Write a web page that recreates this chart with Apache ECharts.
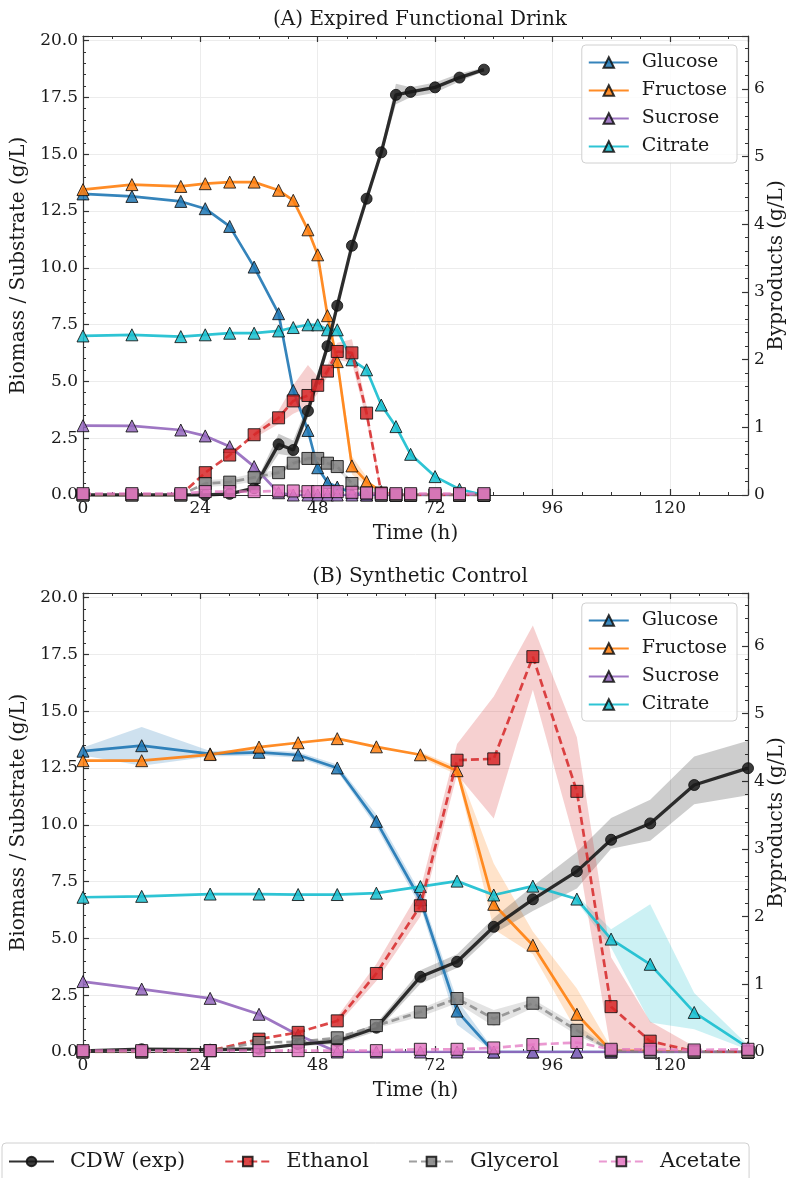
<!DOCTYPE html>
<html>
<head>
<meta charset="utf-8">
<title>Fermentation profiles</title>
<script src="https://cdn.jsdelivr.net/npm/echarts@6/dist/echarts.min.js"></script>
<style>
  html, body { margin: 0; padding: 0; background: #fff; }
  #chart { width: 790px; height: 1178px; }
</style>
</head>
<body>
<div id="chart"></div>
<script>
// ---- data ----
// panel A: expired functional drink
const timeA = [0, 10, 20, 25, 30, 35, 40, 43, 46, 48, 50, 52, 55, 58, 61, 64, 67, 72, 77, 82];
const glucoseA = [13.25, 13.14, 12.92, 12.6, 11.82, 10.03, 7.98, 4.6, 2.84, 1.2, 0.55, 0.35, 0.1, 0, 0, 0, 0, 0, 0, 0];
const fructoseA = [13.44, 13.66, 13.58, 13.7, 13.77, 13.77, 13.41, 12.97, 11.67, 10.57, 7.89, 5.87, 1.28, 0.59, 0.15, 0, 0, 0, 0, 0];
const sucroseA = [3.05, 3.04, 2.86, 2.6, 2.13, 1.25, 0.1, 0, 0, 0, 0, 0, 0, 0, 0, 0, 0, 0, 0, 0];
const citrateA = [7.0, 7.05, 6.97, 7.05, 7.12, 7.12, 7.22, 7.37, 7.49, 7.49, 7.27, 7.27, 5.95, 5.51, 3.96, 3.01, 1.79, 0.81, 0.25, 0];
const cdwA = [0, 0, 0, 0, 0.05, 0.3, 2.23, 1.98, 3.7, null, 6.55, 8.33, 10.97, 13.04, 15.08, 17.61, 17.74, 17.94, 18.37, 18.72];
const ethanolA = [0, 0, 0, 0.33, 0.59, 0.89, 1.14, 1.39, 1.47, 1.62, 1.83, 2.12, 2.1, 1.21, 0.03, 0, 0, 0, 0, 0];
const glycerolA = [0, 0, 0, 0.17, 0.19, 0.26, 0.33, 0.47, 0.54, 0.54, 0.47, 0.42, 0.17, 0.03, 0, 0, 0, 0, 0, 0];
const acetateA = [0.02, 0.02, 0.02, 0.05, 0.05, 0.05, 0.06, 0.06, 0.05, 0.05, 0.05, 0.05, 0.04, 0.03, 0.02, 0.02, 0.02, 0.02, 0.02, 0.02];
// shaded ranges (low / high), null where no band is drawn
const cdwA_lo = [null, null, null, null, null, 0.2, 1.8, 1.7, 3.4, null, 6.3, 8.1, 10.8, 12.9, 14.9, 17.2, 17.5, 17.7, 18.2, 18.65];
const cdwA_hi = [null, null, null, null, null, 0.4, 2.7, 2.4, 4.0, null, 6.8, 8.5, 11.1, 13.2, 15.25, 18.1, 17.95, 18.15, 18.55, 18.8];
const ethanolA_lo = [null, null, null, null, null, 0.84, 1.05, 1.2, 1.3, 1.5, 1.75, 2.0, 1.95, 1.1, 0, null, null, null, null, null];
const ethanolA_hi = [null, null, null, null, null, 0.93, 1.25, 1.62, 1.92, 1.75, 1.92, 2.25, 2.3, 1.32, 0.06, null, null, null, null, null];
const glycerolA_lo = [null, null, null, 0.12, 0.14, 0.2, 0.3, 0.43, 0.5, 0.5, 0.43, 0.38, 0.14, null, null, null, null, null, null, null];
const glycerolA_hi = [null, null, null, 0.22, 0.24, 0.32, 0.37, 0.52, 0.58, 0.58, 0.52, 0.46, 0.2, null, null, null, null, null, null, null];
const fructoseA_lo = [null, null, null, null, null, null, null, null, null, null, null, 5.6, 0.9, 0.4, null, null, null, null, null, null];
const fructoseA_hi = [null, null, null, null, null, null, null, null, null, null, null, 6.2, 1.7, 0.8, null, null, null, null, null, null];

// panel B: synthetic control
const timeB = [0, 12, 26, 36, 44, 52, 60, 69, 76.5, 84, 92, 101, 108, 116, 125, 136];
const glucoseB = [13.24, 13.48, 13.12, 13.19, 13.07, 12.5, 10.15, 6.7, 1.8, 0, 0, 0, 0, 0, 0, 0];
const fructoseB = [12.82, 12.82, 13.09, 13.42, 13.61, 13.79, 13.43, 13.08, 12.38, 6.5, 4.7, 1.66, 0.05, 0.05, 0, 0];
const sucroseB = [3.1, 2.77, 2.36, 1.66, 0.75, 0, 0, 0, 0, 0, 0, 0, 0, 0, 0, 0];
const citrateB = [6.81, 6.85, 6.95, 6.95, 6.93, 6.93, 6.99, 7.28, 7.52, 6.91, 7.3, 6.73, 4.97, 3.86, 1.74, 0.19];
const cdwB = [0.05, 0.12, 0.1, 0.14, 0.34, 0.48, 1.07, 3.31, 3.97, 5.51, 6.72, 7.95, 9.34, 10.06, 11.75, 12.49];
const ethanolB = [0, 0, 0.02, 0.19, 0.29, 0.46, 1.16, 2.16, 4.31, 4.33, 5.84, 3.85, 0.67, 0.16, 0.01, 0];
const glycerolB = [0, 0, 0.02, 0.14, 0.15, 0.21, 0.39, 0.59, 0.79, 0.49, 0.72, 0.32, 0.02, 0, 0, 0];
const acetateB = [0.02, 0.02, 0.02, 0.02, 0.02, 0.02, 0.02, 0.04, 0.04, 0.06, 0.11, 0.14, 0.04, 0.04, 0.03, 0.04];
const glucoseB_lo = [13.05, 12.6, 13.0, 13.05, 12.95, 12.35, 9.9, 6.4, 1.2, 0, null, null, null, null, null, null];
const glucoseB_hi = [13.4, 14.3, 13.25, 13.3, 13.2, 12.65, 10.45, 7.0, 2.3, 0.1, null, null, null, null, null, null];
const fructoseB_lo = [null, null, null, null, null, null, null, 12.95, 12.2, 5.4, 4.3, 0.9, 0, null, null, null];
const fructoseB_hi = [null, null, null, null, null, null, null, 13.2, 12.55, 8.3, 5.3, 2.8, 0.2, null, null, null];
const citrateB_lo = [null, null, null, null, null, null, null, null, null, null, null, 6.6, 4.6, 1.3, 1.0, 0.1];
const citrateB_hi = [null, null, null, null, null, null, null, null, null, null, null, 6.9, 5.4, 6.5, 2.6, 0.3];
const cdwB_lo = [null, null, null, null, 0.25, 0.35, 0.9, 3.0, 3.7, 5.2, 6.2, 7.2, 8.95, 9.3, 10.9, 11.3];
const cdwB_hi = [null, null, null, null, 0.45, 0.6, 1.25, 3.6, 4.3, 5.9, 7.3, 8.8, 10.3, 11.1, 13.0, 13.7];
const ethanolB_lo = [null, null, null, null, null, 0.4, 1.05, 2.0, 4.1, 3.45, 5.35, 3.0, 0, 0, 0, null];
const ethanolB_hi = [null, null, null, null, null, 0.52, 1.3, 2.4, 4.55, 5.25, 6.3, 4.65, 1.4, 0.45, 0.08, null];
const glycerolB_lo = [null, null, null, null, null, null, 0.35, 0.52, 0.72, 0.38, 0.65, 0.25, 0, null, null, null];
const glycerolB_hi = [null, null, null, null, null, null, 0.43, 0.64, 0.86, 0.62, 0.78, 0.4, 0.05, null, null, null];

const substrateNames = ['Glucose', 'Fructose', 'Sucrose', 'Citrate'];
const productNames = ['CDW (exp)', 'Ethanol', 'Glycerol', 'Acetate'];
const titles = ['(A) Expired Functional Drink', '(B) Synthetic Control'];

// ---- styling ----
const FONT = 'DejaVu Serif';
const C = {
  glucose: '#1f77b4', fructose: '#ff7f0e', sucrose: '#9467bd', citrate: '#17becf',
  cdw: '#1a1a1a', ethanol: '#d62728', glycerol: '#7f7f7f', acetate: '#e377c2'
};
const X_MAX = 136, LEFT_MAX = 20.2, RIGHT_MAX = 6.78;
const gridTops = [36, 593];
const GRID_H = 459;

let chart = echarts.init(document.getElementById('chart'));

function pairs(times, vals) {
  return times.map(function (t, i) { return [t, vals[i]]; });
}

function line(name, xi, yi, times, vals, color, symbol, opts) {
  opts = opts || {};
  return {
    name: name,
    type: 'line',
    xAxisIndex: xi,
    yAxisIndex: yi,
    data: pairs(times, vals),
    connectNulls: true,
    symbol: symbol,
    symbolSize: opts.size || 12,
    z: opts.z || 3,
    lineStyle: {
      color: color,
      width: opts.width || 2.7,
      type: opts.dashed ? [8, 4] : 'solid',
      opacity: opts.lineOpacity || 0.9
    },
    itemStyle: {
      color: color,
      opacity: 0.85,
      borderColor: '#111',
      borderWidth: 1
    },
    emphasis: { disabled: true }
  };
}

function band(xi, yi, times, lo, hi, color) {
  return {
    type: 'custom',
    xAxisIndex: xi,
    yAxisIndex: yi,
    silent: true,
    z: 1,
    data: [[times[0], 0]],
    renderItem: function (params, api) {
      let top = [], bottom = [];
      for (let i = 0; i < times.length; i++) {
        if (lo[i] == null || hi[i] == null) continue;
        top.push(api.coord([times[i], hi[i]]));
        bottom.unshift(api.coord([times[i], lo[i]]));
      }
      return {
        type: 'polygon',
        shape: { points: top.concat(bottom) },
        style: { fill: color, opacity: 0.22 }
      };
    }
  };
}

function panelSeries(p, t, d) {
  const xi = p * 2, yl = p * 2, yr = p * 2 + 1;
  let s = [];
  d.bands.forEach(function (b) { s.push(band(xi, b[0] ? yr : yl, t, b[1], b[2], b[3])); });
  s.push(line('Glucose', xi, yl, t, d.glucose, C.glucose, 'triangle'));
  s.push(line('Fructose', xi, yl, t, d.fructose, C.fructose, 'triangle'));
  s.push(line('Sucrose', xi, yl, t, d.sucrose, C.sucrose, 'triangle'));
  s.push(line('Citrate', xi, yl, t, d.citrate, C.citrate, 'triangle'));
  s.push(line('CDW (exp)', xi, yl, t, d.cdw, C.cdw, 'circle', { width: 3.3, size: 11, z: 4 }));
  s.push(line('Ethanol', xi, yr, t, d.ethanol, C.ethanol, 'rect', { dashed: true, lineOpacity: 0.85, z: 5 }));
  s.push(line('Glycerol', xi, yr, t, d.glycerol, C.glycerol, 'rect', { dashed: true, lineOpacity: 0.75, z: 5 }));
  s.push(line('Acetate', xi, yr, t, d.acetate, C.acetate, 'rect', { dashed: true, lineOpacity: 0.75, z: 5 }));
  return s;
}

const axisLineStyle = { color: '#333', width: 1.2 };
const labelStyle = { fontFamily: FONT, fontSize: 17, color: '#1a1a1a' };
const nameStyle = { fontFamily: FONT, fontSize: 20, color: '#1a1a1a' };

function xAxes(g) {
  return [{
    type: 'value', gridIndex: g, min: 0, max: X_MAX, interval: 24,
    name: 'Time (h)', nameLocation: 'middle', nameGap: 29,
    nameTextStyle: nameStyle,
    axisLine: { onZero: false, lineStyle: axisLineStyle },
    axisTick: { inside: true, length: 6, lineStyle: axisLineStyle },
    minorTick: { show: true, splitNumber: 4, length: 3, lineStyle: { color: '#333' } },
    axisLabel: Object.assign({ margin: 5, showMaxLabel: false }, labelStyle),
    splitLine: { show: true, lineStyle: { color: '#ececec', width: 1 } }
  }, {
    type: 'value', gridIndex: g, position: 'top', min: 0, max: X_MAX, interval: 24,
    axisLine: { onZero: false, lineStyle: axisLineStyle },
    axisTick: { inside: true, length: 6, lineStyle: axisLineStyle },
    minorTick: { show: true, splitNumber: 4, length: 3, lineStyle: { color: '#333' } },
    axisLabel: { show: false },
    splitLine: { show: false }
  }];
}

function yAxes(g) {
  return [{
    type: 'value', gridIndex: g, position: 'left', min: 0, max: LEFT_MAX, interval: 2.5,
    name: 'Biomass / Substrate (g/L)', nameLocation: 'middle', nameGap: 50, nameRotate: 90,
    nameTextStyle: nameStyle,
    axisLine: { show: true, onZero: false, lineStyle: axisLineStyle },
    axisTick: { show: true, inside: true, length: 6, lineStyle: axisLineStyle },
    minorTick: { show: true, splitNumber: 5, length: 3, lineStyle: { color: '#333' } },
    axisLabel: Object.assign({ margin: 5, showMaxLabel: false, formatter: function (v) { return v.toFixed(1); } }, labelStyle),
    splitLine: { show: true, lineStyle: { color: '#ececec', width: 1 } }
  }, {
    type: 'value', gridIndex: g, position: 'right', min: 0, max: RIGHT_MAX, interval: 1,
    name: 'Byproducts (g/L)', nameLocation: 'middle', nameGap: 19, nameRotate: 90,
    nameMoveOverlap: false,
    nameTextStyle: nameStyle,
    axisLine: { show: true, onZero: false, lineStyle: axisLineStyle },
    axisTick: { show: true, inside: true, length: 6, lineStyle: axisLineStyle },
    minorTick: { show: true, splitNumber: 5, length: 3, lineStyle: { color: '#333' } },
    axisLabel: Object.assign({ margin: 6, showMaxLabel: false }, labelStyle),
    splitLine: { show: false }
  }];
}

function substrateLegend(top) {
  return {
    data: substrateNames,
    orient: 'vertical',
    right: 53, top: top,
    itemWidth: 40, itemHeight: 13, itemGap: 9,
    padding: [8, 10, 7, 6],
    backgroundColor: 'rgba(255,255,255,0.85)',
    borderColor: '#d0d0d0', borderWidth: 1, borderRadius: 4,
    textStyle: { fontFamily: FONT, fontSize: 19, color: '#1a1a1a', padding: [0, 0, 0, 8] },
    selectedMode: false
  };
}

let seriesA = panelSeries(0, timeA, {
  glucose: glucoseA, fructose: fructoseA, sucrose: sucroseA, citrate: citrateA,
  cdw: cdwA, ethanol: ethanolA, glycerol: glycerolA, acetate: acetateA,
  bands: [
    [false, cdwA_lo, cdwA_hi, C.cdw],
    [false, fructoseA_lo, fructoseA_hi, C.fructose],
    [true, ethanolA_lo, ethanolA_hi, C.ethanol],
    [true, glycerolA_lo, glycerolA_hi, C.glycerol]
  ]
});
let seriesB = panelSeries(1, timeB, {
  glucose: glucoseB, fructose: fructoseB, sucrose: sucroseB, citrate: citrateB,
  cdw: cdwB, ethanol: ethanolB, glycerol: glycerolB, acetate: acetateB,
  bands: [
    [false, glucoseB_lo, glucoseB_hi, C.glucose],
    [false, fructoseB_lo, fructoseB_hi, C.fructose],
    [false, citrateB_lo, citrateB_hi, C.citrate],
    [false, cdwB_lo, cdwB_hi, C.cdw],
    [true, ethanolB_lo, ethanolB_hi, C.ethanol],
    [true, glycerolB_lo, glycerolB_hi, C.glycerol]
  ]
});

let option = {
  animation: false,
  backgroundColor: '#fff',
  title: titles.map(function (t, i) {
    return {
      text: t, left: 415, top: gridTops[i] - 31, textAlign: 'center',
      textStyle: { fontFamily: FONT, fontSize: 20, fontWeight: 'normal', color: '#1a1a1a' }
    };
  }),
  grid: gridTops.map(function (top) {
    return { left: 83, right: 42, top: top, height: GRID_H, outerBoundsMode: 'none' };
  }),
  xAxis: xAxes(0).concat(xAxes(1)),
  yAxis: yAxes(0).concat(yAxes(1)),
  legend: [
    substrateLegend(45),
    substrateLegend(603),
    {
      data: productNames,
      orient: 'horizontal',
      left: 2, top: 1143,
      itemWidth: 45, itemHeight: 12, itemGap: 39,
      padding: [8, 8, 14, 6],
      borderColor: '#d0d0d0', borderWidth: 1, borderRadius: 4,
      textStyle: { fontFamily: FONT, fontSize: 21, color: '#1a1a1a', padding: [0, 0, 0, 11] },
      selectedMode: false
    }
  ],
  series: seriesA.concat(seriesB)
};

chart.setOption(option);
</script>
</body>
</html>
